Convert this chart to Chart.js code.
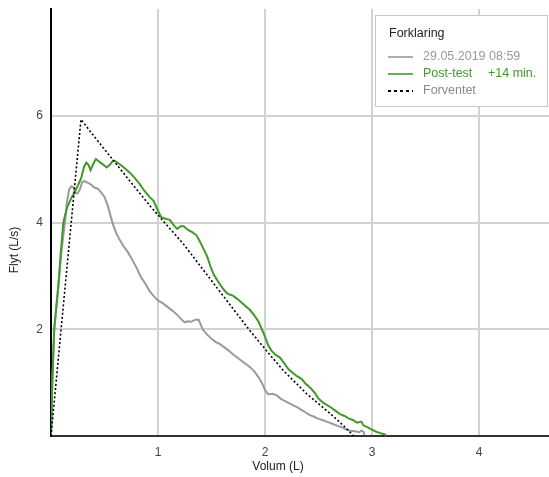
<!DOCTYPE html>
<html>
<head>
<meta charset="utf-8">
<script src="https://cdn.jsdelivr.net/npm/chart.js@4.4.1/dist/chart.umd.min.js"></script>
<style>
  html, body { margin: 0; padding: 0; background: #fff; }
  #wrap { position: relative; width: 549px; height: 477px; }
</style>
</head>
<body>
<div id="wrap"><canvas id="c" width="549" height="477"></canvas></div>
<script>
// ---- data ----
const seriesLabels = ['29.05.2019 08:59', 'Post-test', 'Forventet'];
const legendNote = '+14 min.';
const legendTitle = 'Forklaring';
const xTitle = 'Volum (L)';
const yTitle = 'Flyt (L/s)';
const xTicks = [1, 2, 3, 4];
const yTicks = [2, 4, 6];

const grayX = [0,0.012,0.03,0.07,0.10,0.13,0.15,0.17,0.19,0.21,0.23,0.25,0.27,0.29,0.31,0.35,0.38,0.40,0.44,0.47,0.50,0.53,0.56,0.58,0.61,0.64,0.68,0.72,0.76,0.80,0.84,0.88,0.92,0.96,1.00,1.05,1.10,1.14,1.18,1.22,1.25,1.28,1.31,1.35,1.38,1.40,1.42,1.46,1.50,1.54,1.58,1.62,1.66,1.70,1.74,1.78,1.82,1.86,1.90,1.94,1.97,2.00,2.03,2.07,2.11,2.14,2.17,2.22,2.26,2.30,2.34,2.38,2.42,2.46,2.50,2.55,2.60,2.64,2.68,2.72,2.76,2.80,2.84,2.88,2.90,2.92,2.93];
const grayY = [0,1.0,2.0,2.84,3.5,4.0,4.4,4.62,4.68,4.66,4.55,4.55,4.62,4.75,4.78,4.74,4.70,4.66,4.63,4.56,4.48,4.32,4.10,3.96,3.80,3.68,3.55,3.44,3.30,3.15,2.98,2.86,2.72,2.62,2.54,2.48,2.40,2.34,2.27,2.18,2.13,2.15,2.14,2.18,2.18,2.08,1.99,1.90,1.82,1.76,1.72,1.66,1.60,1.53,1.47,1.41,1.35,1.29,1.21,1.10,1.00,0.86,0.78,0.79,0.76,0.71,0.67,0.62,0.58,0.54,0.49,0.44,0.39,0.36,0.32,0.29,0.25,0.22,0.19,0.16,0.12,0.10,0.09,0.07,0.10,0.08,0.02];

const greenX = [0,0.012,0.03,0.07,0.09,0.115,0.15,0.19,0.22,0.255,0.28,0.31,0.33,0.35,0.37,0.40,0.42,0.45,0.49,0.52,0.55,0.58,0.60,0.63,0.67,0.71,0.74,0.78,0.83,0.87,0.92,0.96,1.00,1.03,1.07,1.11,1.15,1.18,1.21,1.24,1.28,1.32,1.36,1.39,1.42,1.46,1.49,1.52,1.56,1.60,1.64,1.67,1.70,1.74,1.78,1.82,1.86,1.90,1.94,1.97,2.00,2.03,2.06,2.10,2.14,2.18,2.22,2.26,2.30,2.34,2.38,2.42,2.46,2.50,2.54,2.58,2.62,2.66,2.70,2.74,2.78,2.82,2.86,2.90,2.92,2.96,3.00,3.04,3.08,3.12,3.13];
const greenY = [0,1.0,2.0,2.84,3.4,4.0,4.28,4.46,4.56,4.71,4.82,5.05,5.12,5.08,4.98,5.12,5.19,5.14,5.08,5.03,5.08,5.16,5.15,5.11,5.05,4.98,4.93,4.84,4.72,4.60,4.48,4.40,4.22,4.10,4.07,4.05,3.94,3.88,3.93,3.93,3.86,3.82,3.76,3.65,3.53,3.36,3.18,3.03,2.90,2.78,2.68,2.65,2.63,2.57,2.50,2.43,2.36,2.26,2.14,2.00,1.86,1.70,1.60,1.52,1.47,1.36,1.25,1.18,1.12,1.07,0.98,0.91,0.82,0.70,0.63,0.58,0.53,0.47,0.41,0.38,0.33,0.30,0.25,0.27,0.20,0.16,0.12,0.08,0.05,0.03,0.01];

const predX = [0,0.28,0.44,0.70,0.93,1.24,1.55,1.86,2.00,2.17,2.39,2.61,2.73,2.83];
const predY = [0,5.93,5.52,4.87,4.30,3.59,2.78,1.97,1.63,1.23,0.79,0.42,0.20,0.0];

const toPts = (xs, ys) => xs.map((x, i) => ({ x: x, y: ys[i] }));

const colGray = '#9a9a9a';
const colGreen = '#3f9a28';
const colPred = '#000000';
const FONT = '"Liberation Sans", Arial, sans-serif';

const overlay = {
  id: 'overlay',
  afterDraw(chart) {
    const ctx = chart.ctx;
    ctx.save();
    // axis titles
    ctx.fillStyle = '#222';
    ctx.font = '12px ' + FONT;
    ctx.textAlign = 'center';
    ctx.textBaseline = 'middle';
    ctx.fillText(xTitle, 278, 467);
    ctx.save();
    ctx.translate(15, 250);
    ctx.rotate(-Math.PI / 2);
    ctx.fillText(yTitle, 0, 0);
    ctx.restore();

    // legend box
    const bx = 375.5, by = 15.5, bw = 172, bh = 91;
    ctx.fillStyle = '#fff';
    ctx.fillRect(bx, by, bw, bh);
    ctx.strokeStyle = '#c8c8c8';
    ctx.lineWidth = 1;
    ctx.strokeRect(bx, by, bw, bh);

    ctx.textAlign = 'left';
    ctx.fillStyle = '#222';
    ctx.font = '12.5px ' + FONT;
    ctx.fillText(legendTitle, 389, 34);

    const ds = chart.data.datasets;
    const rows = [57, 74, 91];
    const textCols = ['#9a9a9a', colGreen, '#8a8a8a'];
    ds.forEach((d, i) => {
      const y = rows[i];
      ctx.beginPath();
      ctx.strokeStyle = d.borderColor;
      ctx.lineWidth = i === 2 ? 2 : 1.6;
      ctx.setLineDash(i === 2 ? [3, 3] : []);
      ctx.moveTo(388, y);
      ctx.lineTo(413, y);
      ctx.stroke();
      ctx.setLineDash([]);
      ctx.fillStyle = textCols[i];
      ctx.font = '12.5px ' + FONT;
      ctx.fillText(d.label, 423, y);
      if (i === 1) ctx.fillText(legendNote, 488, y);
    });
    ctx.restore();
  }
};

const gridColor = '#d2d2d2';

new Chart(document.getElementById('c'), {
  type: 'scatter',
  data: {
    datasets: [
      { label: seriesLabels[0], data: toPts(grayX, grayY), showLine: true, borderColor: colGray, backgroundColor: colGray, borderWidth: 2, pointRadius: 0, tension: 0, order: 3 },
      { label: seriesLabels[1], data: toPts(greenX, greenY), showLine: true, borderColor: colGreen, backgroundColor: colGreen, borderWidth: 2, pointRadius: 0, tension: 0, order: 2 },
      { label: seriesLabels[2], data: toPts(predX, predY), showLine: true, borderColor: colPred, backgroundColor: colPred, borderWidth: 1.6, borderDash: [2, 2.2], pointRadius: 0, tension: 0, order: 1 }
    ]
  },
  options: {
    responsive: false,
    animation: false,
    devicePixelRatio: 1,
    layout: { padding: { top: 9, right: 0, left: 0, bottom: 0 } },
    plugins: { legend: { display: false }, tooltip: { enabled: false } },
    scales: {
      x: {
        type: 'linear',
        min: 0,
        max: 4.654,
        afterBuildTicks: (s) => { s.ticks = [0].concat(xTicks).map(v => ({ value: v })); },
        afterFit: (s) => { s.height = 41; s.paddingLeft = 0; s.paddingRight = 0; },
        grid: { color: (c) => c.tick && c.tick.value === 0 ? 'rgba(0,0,0,0)' : gridColor, lineWidth: 2, drawTicks: false },
        border: { color: '#333', width: 2 },
        ticks: { padding: 9, color: '#444', font: { family: FONT, size: 12 }, callback: (v) => xTicks.includes(v) ? String(v) : '' , maxRotation: 0, autoSkip: false }
      },
      y: {
        type: 'linear',
        min: 0,
        max: 8,
        afterBuildTicks: (s) => { s.ticks = [0].concat(yTicks).map(v => ({ value: v })); },
        afterFit: (s) => { s.width = 51; s.paddingTop = 0; s.paddingBottom = 0; },
        grid: { color: (c) => c.tick && c.tick.value === 0 ? 'rgba(0,0,0,0)' : gridColor, lineWidth: 2, drawTicks: false },
        border: { color: '#000', width: 2 },
        ticks: { padding: 8, color: '#444', font: { family: FONT, size: 12 }, callback: (v) => yTicks.includes(v) ? String(v) : '' }
      }
    }
  },
  plugins: [overlay]
});
</script>
</body>
</html>
